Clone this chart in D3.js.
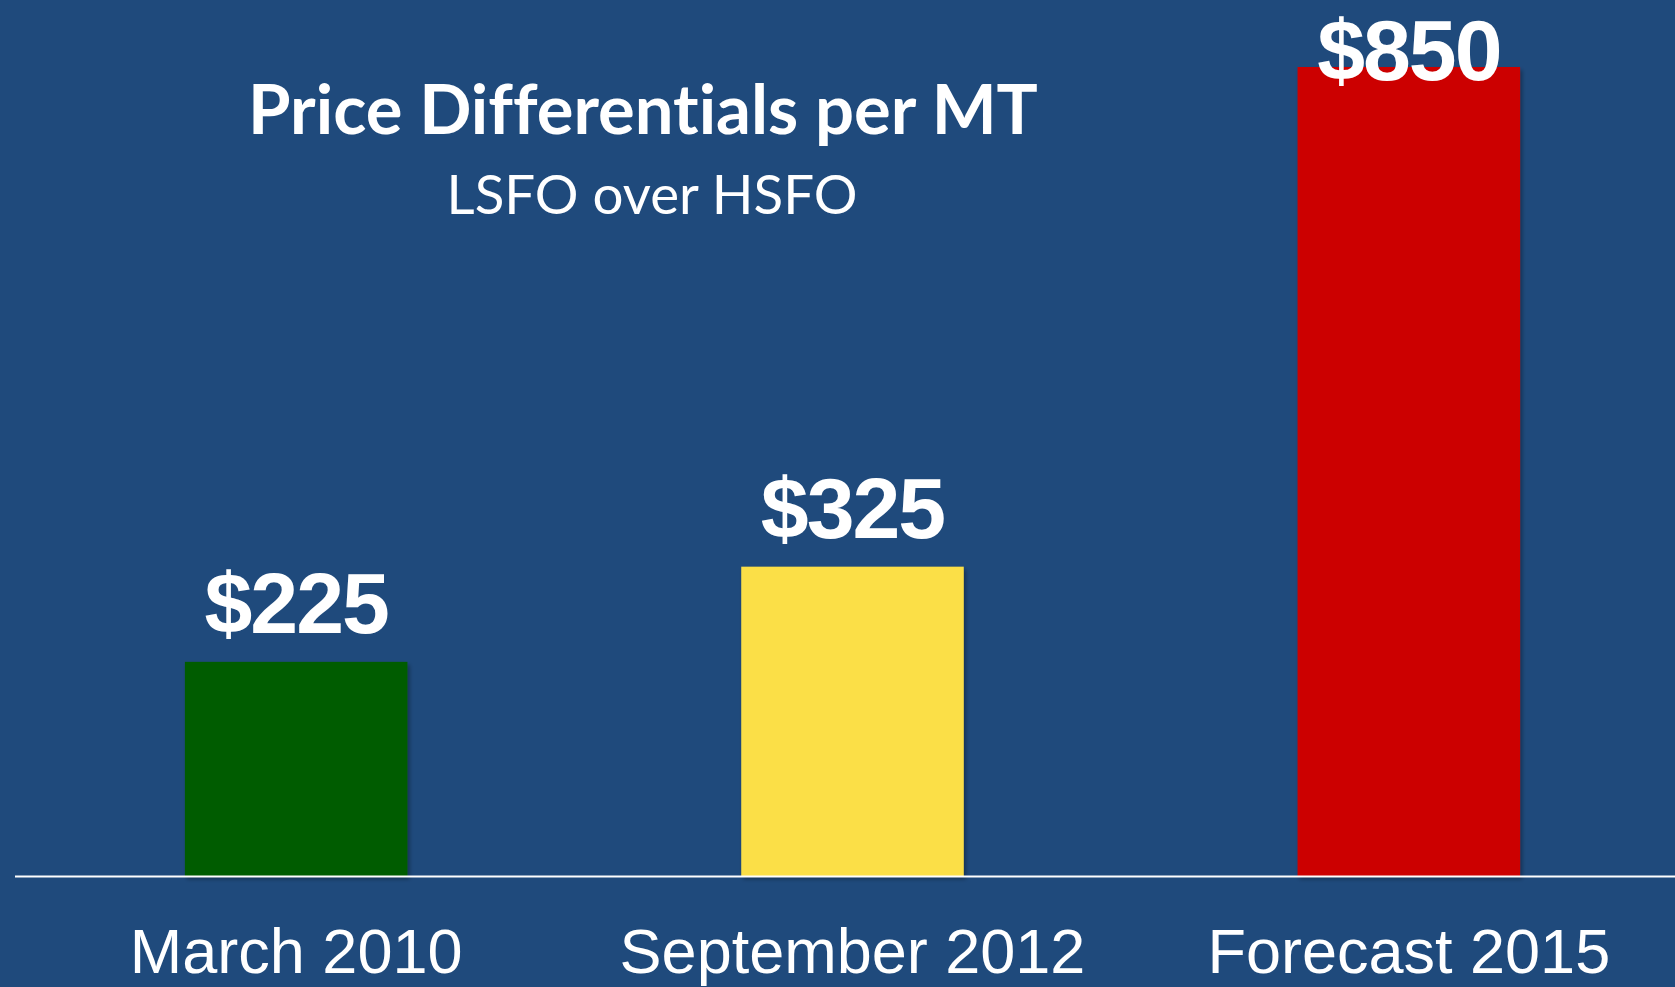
<!DOCTYPE html>
<html>
<head>
<meta charset="utf-8">
<script src="https://cdn.jsdelivr.net/npm/d3@7"></script>
<style>
  html, body { margin: 0; padding: 0; background: #1f4a7c; overflow: hidden; }
  svg { display: block; }
  text { font-variant-ligatures: none; font-feature-settings: "liga" 0, "dlig" 0; }
</style>
</head>
<body>
<div id="chart"></div>
<script>
// chart data
const categories = ["March 2010", "September 2012", "Forecast 2015"];
const values = [225, 325, 850];
const valueLabels = ["$225", "$325", "$850"];
const barColors = ["#005c00", "#fbdf47", "#cc0000"];

const titleText = "Price Differentials per MT";
const subtitleText = "LSFO over HSFO";

const width = 1675, height = 987;
const baseline = 876;

const svg = d3.select("#chart")
  .append("svg")
  .attr("width", width)
  .attr("height", height);

svg.append("rect")
  .attr("width", width)
  .attr("height", height)
  .attr("fill", "#1f4a7c");

const defs = svg.append("defs");
const shadow = defs.append("filter")
  .attr("id", "shadow")
  .attr("x", "-5%").attr("y", "-5%")
  .attr("width", "115%").attr("height", "115%");
shadow.append("feDropShadow")
  .attr("dx", 2).attr("dy", 3)
  .attr("stdDeviation", 2)
  .attr("flood-color", "#000")
  .attr("flood-opacity", 0.35);

const x = d3.scaleBand()
  .domain(categories)
  .range([18, 1687])
  .paddingInner(0.6)
  .paddingOuter(0.3);

const y = d3.scaleLinear()
  .domain([0, 850])
  .range([baseline, 67]);

// bars
svg.append("g")
  .selectAll("rect")
  .data(values)
  .join("rect")
  .attr("x", (d, i) => x(categories[i]))
  .attr("y", d => y(d))
  .attr("width", x.bandwidth())
  .attr("height", d => baseline - y(d))
  .attr("fill", (d, i) => barColors[i])
  .attr("filter", "url(#shadow)");

// baseline
svg.append("line")
  .attr("x1", 15)
  .attr("x2", width)
  .attr("y1", baseline + 0.5)
  .attr("y2", baseline + 0.5)
  .attr("stroke", "#fff")
  .attr("stroke-width", 2);

// category labels
svg.append("g")
  .selectAll("text")
  .data(categories)
  .join("text")
  .attr("x", d => x(d) + x.bandwidth() / 2)
  .attr("y", 973)
  .attr("text-anchor", "middle")
  .attr("fill", "#fff")
  .style("font-family", "'Liberation Sans', Arial, sans-serif")
  .style("font-size", "63px")
  .text(d => d);

// value labels, kept inside the top of the picture
svg.append("g")
  .selectAll("text")
  .data(values)
  .join("text")
  .attr("x", (d, i) => x(categories[i]) + x.bandwidth() / 2)
  .attr("y", d => Math.max(y(d) - 29, 80))
  .attr("text-anchor", "middle")
  .attr("fill", "#fff")
  .style("font-family", "'Liberation Sans', Arial, sans-serif")
  .style("font-weight", "bold")
  .style("font-size", "86px")
  .style("letter-spacing", "-2px")
  .text((d, i) => valueLabels[i]);

// title + subtitle, sized to the reference width
function fitText(sel, targetWidth) {
  const w = sel.node().getComputedTextLength();
  const fs = parseFloat(sel.style("font-size"));
  sel.style("font-size", (fs * targetWidth / w) + "px");
}

const title = svg.append("text")
  .attr("x", 643)
  .attr("y", 134)
  .attr("text-anchor", "middle")
  .attr("fill", "#fff")
  .style("font-family", "Lato, 'Open Sans', sans-serif")
  .style("font-weight", "bold")
  .style("font-size", "62px")
  .text(titleText);
fitText(title, 790);

const subtitle = svg.append("text")
  .attr("x", 652)
  .attr("y", 214)
  .attr("text-anchor", "middle")
  .attr("fill", "#fff")
  .style("font-family", "Lato, 'Open Sans', sans-serif")
  .style("font-size", "56px")
  .text(subtitleText);
fitText(subtitle, 411);
</script>
</body>
</html>
